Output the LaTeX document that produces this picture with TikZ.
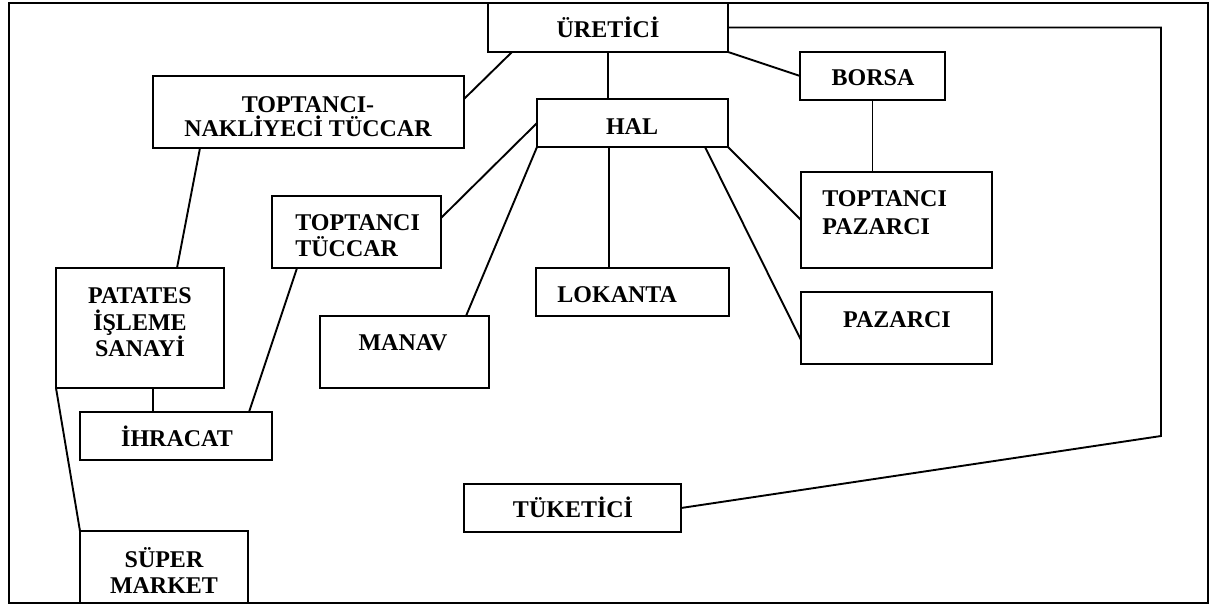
\documentclass[tikz,border=0pt]{standalone}
\usepackage{fontspec}
\setmainfont{Liberation Serif}
\usetikzlibrary{calc}
\begin{document}
\begin{tikzpicture}[x=0.5pt,y=-0.5pt,
  box/.style={draw,line width=1pt,inner sep=0pt,outer sep=0pt},
  lbl/.style={font=\bfseries\fontsize{12}{13}\selectfont,inner sep=0pt,anchor=base},
  lbll/.style={lbl,anchor=base west},
  conn/.style={line width=0.95pt},
  frame/.style={line width=1.2pt}]
\useasboundingbox (0,0) rectangle (1213,605);
\draw[frame] (9,3) rectangle (1208,603);

% boxes
\node[box,minimum width=120pt,minimum height=24.5pt] (u) at (608,27.5) {};
\node[box,minimum width=72.5pt,minimum height=24pt] (borsa) at (872.5,76) {};
\node[box,minimum width=95.5pt,minimum height=24pt] (hal) at (632.5,123) {};
\node[box,minimum width=155.5pt,minimum height=36pt] (tnt) at (308.5,112) {};
\node[box,minimum width=84pt,minimum height=60pt] (pat) at (140,328) {};
\node[box,minimum width=84.5pt,minimum height=36pt] (tt) at (356.5,232) {};
\node[box,minimum width=96pt,minimum height=24pt] (ihr) at (176,436) {};
\node[box,minimum width=84pt,minimum height=36pt] (sup) at (164,567) {};
\node[box,minimum width=84.5pt,minimum height=36pt] (man) at (404.5,352) {};
\node[box,minimum width=96.5pt,minimum height=24pt] (lok) at (632.5,292) {};
\node[box,minimum width=95.5pt,minimum height=48pt] (tp) at (896.5,220) {};
\node[box,minimum width=95.5pt,minimum height=36pt] (paz) at (896.5,328) {};
\node[box,minimum width=108.5pt,minimum height=24pt] (tuk) at (572.5,508) {};

% connectors
\draw[conn] ([xshift=12pt]u.south west) -- ([yshift=6.5pt]tnt.east);
\draw[conn] (u.south) -- (u.south |- hal.north);
\draw[conn] (u.south east) -- (borsa.west);
\coordinate (k) at (1161,436);
\draw[conn] (u.east) -| (k) -- (tuk.east);
\draw[conn] ([xshift=-54.25pt]tnt.south) -- ([xshift=18.5pt]pat.north);
\draw[conn] ([yshift=7pt]tt.east) -- (hal.west);
\draw[conn] ([xshift=-29.75pt]tt.south) -- ([xshift=36.5pt]ihr.north);
\draw[conn] ([xshift=6.5pt]pat.south) -- ([xshift=-11.5pt]ihr.north);
\draw[conn] (pat.south west) -- (sup.north west);
\draw[conn] (hal.south west) -- ([xshift=30.75pt]man.north);
\draw[conn] ([xshift=-11.75pt]hal.south) -- ([xshift=-11.75pt]lok.north);
\draw[conn] ([xshift=36.25pt]hal.south) -- ([yshift=-6pt]paz.west);
\draw[conn] (hal.south east) -- (tp.west);
\draw[conn] (borsa.south) -- (borsa.south |- tp.north);

% labels
\node[lbl] (ut) at (608,37) {ÜRETİCİ};
\node[lbl] (bt) at (873,85) {BORSA};
\node[lbl] (ht) at (632,134) {HAL};
\node[lbl] (tnt1) at (308,112) {TOPTANCI-};
\node[lbl] (tnt2) at (308,136) {NAKLİYECİ TÜCCAR};
\node[lbll] (tt1) at (295,230) {TOPTANCI};
\node[lbll] (tt2) at (295,256) {TÜCCAR};
\node[lbl] (pat1) at (140,303) {PATATES};
\node[lbl] (pat2) at (140,330) {İŞLEME};
\node[lbl] (pat3) at (140,356) {SANAYİ};
\node[lbl] (ihrt) at (177,446) {İHRACAT};
\node[lbl] (mant) at (403,350) {MANAV};
\node[lbll] (lokt) at (557,302) {LOKANTA};
\node[lbll] (tp1) at (822,206) {TOPTANCI};
\node[lbll] (tp2) at (822,234) {PAZARCI};
\node[lbl] (pazt) at (897,327) {PAZARCI};
\node[lbl] (tukt) at (573,517) {TÜKETİCİ};
\node[lbl] (sup1) at (164,567) {SÜPER};
\node[lbl] (sup2) at (164,593) {MARKET};
\end{tikzpicture}
\end{document}
